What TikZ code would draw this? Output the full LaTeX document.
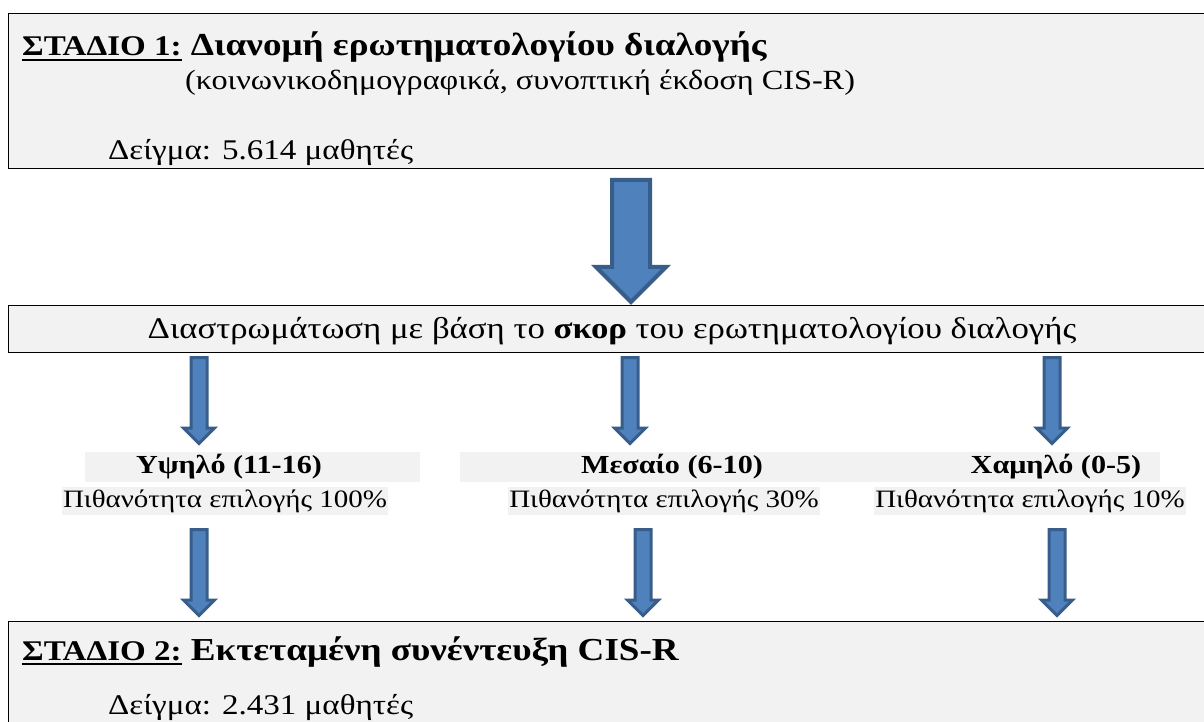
\documentclass[tikz,border=0pt]{standalone}
\usepackage{fontspec}
\setmainfont[FakeStretch=1.16]{Liberation Serif}
\usetikzlibrary{shapes.arrows,positioning}
\definecolor{boxgray}{HTML}{F2F2F2}
\definecolor{arrowblue}{HTML}{4F81BD}
\definecolor{arrowedge}{HTML}{385D8A}

\newcommand{\fsz}[1]{\fontsize{#1}{#1}\selectfont}
\newcommand{\thickul}[1]{\setbox0\hbox{#1}\rlap{\rule[-5pt]{\wd0}{2.4pt}}\box0}

\tikzset{
  stagebox/.style={draw=black, fill=boxgray, line width=1.3pt, rectangle, anchor=north west, inner sep=0pt},
  boxtext/.style={anchor=base west, inner sep=0pt, font=\fsz{28}},
  bigarrow/.style={single arrow, shape border rotate=270, draw=arrowedge, fill=arrowblue,
    line width=4pt, minimum height=122pt, inner sep=17pt, single arrow head extend=16pt,
    anchor=tail},
  smallarrow/.style={single arrow, shape border rotate=270, draw=arrowedge, fill=arrowblue,
    line width=3pt, minimum height=86pt, inner sep=6.5pt, single arrow head extend=7.5pt,
    anchor=tail},
  levelhead/.style={fill=boxgray, inner ysep=3pt, font=\bfseries\fsz{26}},
  levelprob/.style={fill=boxgray, inner ysep=3pt, inner xsep=1pt, font=\fsz{25}}
}

\begin{document}
\begin{tikzpicture}[x=1pt, y=-1pt]
\useasboundingbox (0,0) rectangle (1204,722);

% stage 1
\node[stagebox, minimum width=1210pt, minimum height=155pt] (stage1) at (8,13) {};
\node[boxtext] (title1) at (22,56)
  {\bfseries\fsz{28.5}\thickul{ΣΤΑΔΙΟ 1:}\fsz{32} Διανομή ερωτηματολογίου διαλογής};
\node[boxtext, font=\fsz{27.8}] (sub1) at (185,90) {(κοινωνικοδημογραφικά, συνοπτική έκδοση CIS-R)};
\node[boxtext, font=\fsz{28.5}] (sample1) at (108,160) {Δείγμα: 5.614 μαθητές};

\node[bigarrow] (down1) at (631,178) {};

% stratification
\node[stagebox, minimum width=1210pt, minimum height=47pt] (strata) at (8,305) {};
\node[font=\fsz{30}, inner sep=0pt] (stratatext) at (612,331)
  {Διαστρωμάτωση με βάση το \textbf{σκορ} του ερωτηματολογίου διαλογής};

\node[smallarrow] (downhigh) at (199,356) {};
\node[smallarrow] (downmid) at (630,356) {};
\node[smallarrow] (downlow) at (1052,356) {};

% levels
\node[levelprob] (probhigh) at (225,501) {Πιθανότητα επιλογής 100\%};
\node[levelhead, minimum width=335pt] (high) at (252,467) {\hspace*{-46pt}Υψηλό (11-16)};
\node[levelprob] (probmid) at (664,501) {Πιθανότητα επιλογής 30\%};
\node[levelhead, minimum width=400pt] (mid) at (660,467) {\hspace*{24pt}Μεσαίο (6-10)};
\node[levelprob] (problow) at (1030,501) {Πιθανότητα επιλογής 10\%};
\node[levelhead, minimum width=320pt] (low) at (1000,467) {\hspace*{112pt}Χαμηλό (0-5)};

\node[smallarrow] (outhigh) at (199,528) {};
\node[smallarrow] (outmid) at (643,528) {};
\node[smallarrow] (outlow) at (1057,528) {};

% stage 2
\node[stagebox, minimum width=1210pt, minimum height=120pt] (stage2) at (8,621) {};
\node[boxtext] (title2) at (22,660)
  {\bfseries\fsz{28.5}\thickul{ΣΤΑΔΙΟ 2:}\fsz{32} Εκτεταμένη συνέντευξη CIS-R};
\node[boxtext, font=\fsz{28.5}] (sample2) at (108,714) {Δείγμα: 2.431 μαθητές};
\end{tikzpicture}
\end{document}
